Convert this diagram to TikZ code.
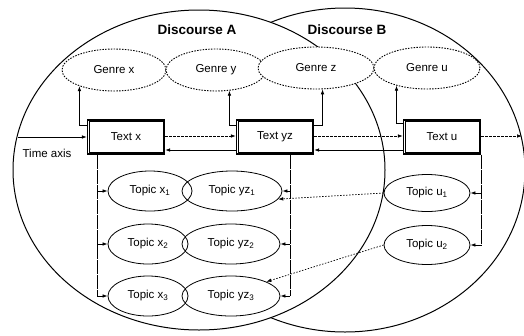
\documentclass[tikz,border=0pt]{standalone}
\usepackage{fontspec}
\setmainfont{Liberation Sans}
\usetikzlibrary{shapes.geometric,arrows.meta}
\begin{document}
\begin{tikzpicture}[x=1pt,y=-1pt,
  font=\fontsize{11.5}{13}\selectfont,
  disc/.style={draw,line width=1pt,fill=white},
  disclabel/.style={font=\bfseries\fontsize{13.5}{15}\selectfont},
  genre/.style={ellipse,draw,line width=0.9pt,dash pattern=on 1.5pt off 1.3pt,fill=white,minimum height=42pt,inner sep=0pt},
  textbox/.style={rectangle,draw,line width=1.4pt,fill=white,minimum width=77pt,minimum height=34pt,inner sep=0pt},
  innerbox/.style={line width=0.6pt},
  topic/.style={ellipse,draw,line width=0.8pt,minimum height=40pt,inner sep=0pt},
  arr/.style={-{Latex[length=5pt,width=3.6pt]},line width=0.7pt},
  darr/.style={arr,dash pattern=on 2.5pt off 1.5pt},
  varr/.style={line width=0.7pt,dash pattern=on 14pt off 1pt},
  dotarr/.style={arr,dash pattern=on 1.5pt off 1.5pt},
]
\useasboundingbox (0,0) rectangle (524,335);

% discourse circles
\draw[disc] (345,170) ellipse [x radius=180, y radius=162];
\draw[disc] (199,170) ellipse [x radius=186, y radius=160];
\node[disclabel] (da) at (197,30) {Discourse A};
\node[disclabel] (db) at (347,30) {Discourse B};

% genres
\node[genre, minimum width=104pt] (gx) at (114,70) {Genre x};
\node[genre, minimum width=100pt] (gy) at (216,70) {Genre y};
\node[genre, minimum width=116pt] (gz) at (316,68) {Genre z};
\node[genre, minimum width=106pt] (gu) at (427,68) {Genre u};

% texts
\node[textbox] (tx) at (126,137) {Text x};
\node[textbox] (tyz) at (275,137) {Text yz};
\node[textbox] (tu) at (442,137) {Text u};
\foreach \n in {tx,tyz,tu}
  \draw[innerbox] ([shift={(2.3pt,2.3pt)}]\n.south west) rectangle ([shift={(-2.3pt,-2.3pt)}]\n.north east);

% topics
\node[topic, minimum width=84pt] (x1) at (150,191) {Topic x\textsubscript{1}};
\node[topic, minimum width=100pt] (yz1) at (232,191) {Topic yz\textsubscript{1}};
\node[topic, minimum width=80pt] (x2) at (148,244) {Topic x\textsubscript{2}};
\node[topic, minimum width=98pt] (yz2) at (231,244) {Topic yz\textsubscript{2}};
\node[topic, minimum width=80pt] (x3) at (148,296) {Topic x\textsubscript{3}};
\node[topic, minimum width=98pt] (yz3) at (231,296) {Topic yz\textsubscript{3}};
\node[topic, minimum width=86pt, minimum height=37pt] (u1) at (427,193) {Topic u\textsubscript{1}};
\node[topic, minimum width=86pt, minimum height=39pt] (u2) at (427,245) {Topic u\textsubscript{2}};

% time axis
\coordinate (ta) at (18,137);
\draw[arr] (ta) -- (tx.west);
\node (tal) at (47,153) {Time axis};
\coordinate (rend) at (522,136);

% text-to-text connectors
\draw[darr] ([yshift=1pt]tx.east) -- ([yshift=1pt]tyz.west);
\draw[arr] ([yshift=-13pt]tyz.west) -- ([yshift=-13pt]tx.east);
\draw[darr] ([yshift=1pt]tyz.east) -- ([yshift=1pt]tu.west);
\draw[arr] ([yshift=-13pt]tu.west) -- ([yshift=-13pt]tyz.east);
\draw[darr] ([yshift=1pt]tu.east) -- (rend);

% text-to-genre connectors
\draw[arr] ([yshift=12pt]tx.west) -| (gx.205);
\draw[arr] ([yshift=12pt]tyz.west) -| (gy.303);
\draw[arr] ([yshift=12pt]tyz.east) -| (gz.287);
\draw[arr] ([yshift=14pt]tu.west) -| (gu.210);

% text-to-topic connectors
\coordinate (vx) at ([xshift=-29pt]tx.south);
\draw[varr] (vx) -- (x3.west -| vx);
\draw[arr] (x1.west -| vx) -- (x1.west);
\draw[arr] (x2.west -| vx) -- (x2.west);
\draw[arr] (x3.west -| vx) -- (x3.west);

\coordinate (vyz) at ([xshift=15pt]tyz.south);
\draw[varr] (vyz) -- (yz3.east -| vyz);
\draw[arr] (yz1.east -| vyz) -- (yz1.east);
\draw[arr] (yz2.east -| vyz) -- (yz2.east);
\draw[arr] (yz3.east -| vyz) -- (yz3.east);

\coordinate (vu) at ([xshift=0.5pt]tu.south east);
\draw[varr] (vu) -- (u2.east -| vu);
\draw[arr] (u1.east -| vu) -- (u1.east);
\draw[arr] (u2.east -| vu) -- (u2.east);

% cross-discourse topic links
\draw[dotarr] (u1.west) -- (yz1.-10);
\draw[dotarr] (u2.west) -- (yz3.22);
\end{tikzpicture}
\end{document}
